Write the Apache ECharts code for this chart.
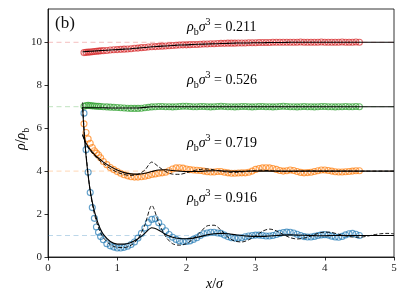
<!DOCTYPE html>
<html><head><meta charset="utf-8">
<script src="https://cdn.jsdelivr.net/npm/echarts@6/dist/echarts.min.js"></script>
<style>html,body{margin:0;padding:0;background:#fff}#c{width:407px;height:305px}</style>
</head><body><div id="c"></div>
<script>
// ---- data ----
const offsets = [0, 3, 6, 9];
const densities = ['0.916', '0.719', '0.526', '0.211'];
const colors = ['#1f77b4', '#ff7f0e', '#2ca02c', '#d62728'];
const xTicks = [0, 1, 2, 3, 4, 5];
const yTicks = [0, 2, 4, 6, 8, 10];

const markerX = [
 0.52,0.55,0.58,0.61,0.64,0.67,0.70,0.73,0.76,0.80,
 0.85,0.90,0.95,1.00,1.05,1.10,1.15,1.20,1.25,1.30,
 1.35,1.40,1.45,1.50,1.55,1.60,1.65,1.70,1.75,1.80,
 1.85,1.90,1.95,2.00,2.05,2.10,2.15,2.20,2.25,2.30,
 2.35,2.40,2.45,2.50,2.55,2.60,2.65,2.70,2.75,2.80,
 2.85,2.90,2.95,3.00,3.05,3.10,3.15,3.20,3.25,3.30,
 3.35,3.40,3.45,3.50,3.55,3.60,3.65,3.70,3.75,3.80,
 3.85,3.90,3.95,4.00,4.05,4.10,4.15,4.20,4.25,4.30,
 4.35,4.40,4.45,4.50];
const blueData = [
 6.7,5.0,3.95,3.0,2.3,1.8,1.4,1.15,0.95,0.8,
 0.62,0.52,0.46,0.42,0.42,0.45,0.5,0.58,0.7,0.88,
 1.1,1.35,1.6,1.75,1.78,1.6,1.4,1.22,1.05,0.92,
 0.82,0.75,0.72,0.72,0.75,0.82,0.9,1.0,1.08,1.12,
 1.15,1.15,1.12,1.1,1.02,0.95,0.9,0.88,0.88,0.9,
 0.94,0.98,1.0,1.02,1.02,1.0,0.98,0.98,1.0,1.05,
 1.1,1.14,1.16,1.15,1.12,1.06,1.0,0.95,0.93,0.93,
 0.96,1.0,1.03,1.04,1.02,0.97,0.93,0.92,0.96,1.03,
 1.08,1.1,1.06,1.0];
const orangeData = [
 3.2,2.8,2.5,2.3,2.1,1.95,1.84,1.75,1.62,1.45,
 1.3,1.17,1.07,0.98,0.9,0.83,0.78,0.74,0.72,0.72,
 0.74,0.76,0.8,0.84,0.87,0.9,0.92,0.95,1.02,1.1,
 1.15,1.16,1.14,1.1,1.07,1.05,1.04,1.03,1.0,0.97,
 0.96,0.96,0.98,0.98,0.95,0.92,0.9,0.9,0.91,0.92,
 0.92,0.95,1.0,1.08,1.12,1.15,1.16,1.15,1.12,1.08,
 1.03,1.0,1.02,1.05,1.03,0.98,0.94,0.92,0.93,0.95,
 0.98,1.02,1.05,1.05,1.03,1.0,0.97,0.96,0.96,0.97,
 0.98,1.0,1.02,1.02];
const greenData = [
 1.02,1.05,1.06,1.05,1.04,1.03,1.02,1.02,1.01,1.0,
 0.99,0.98,0.97,0.96,0.95,0.94,0.93,0.92,0.92,0.92,
 0.93,0.95,0.97,0.99,1.0,1.01,1.01,1.0,1.0,0.99,
 1.0,1.01,1.02,1.02,1.01,1.0,1.0,1.01,1.01,1.0,
 0.99,1.0,1.01,1.02,1.01,1.0,1.0,0.99,1.0,1.01,
 1.01,1.0,0.99,1.0,1.01,1.01,1.0,1.0,0.99,1.0,
 1.01,1.02,1.01,1.0,1.0,0.99,1.0,1.01,1.0,1.0,
 0.99,1.0,1.01,1.01,1.0,1.0,0.99,1.0,1.0,1.01,
 1.0,1.0,1.01,1.0];
const redData = [
 0.52,0.53,0.54,0.55,0.56,0.57,0.58,0.59,0.6,0.61,
 0.62,0.64,0.65,0.66,0.67,0.68,0.69,0.7,0.72,0.73,
 0.75,0.76,0.78,0.79,0.8,0.81,0.82,0.83,0.84,0.85,
 0.86,0.87,0.88,0.88,0.89,0.9,0.9,0.91,0.92,0.92,
 0.93,0.93,0.94,0.95,0.95,0.96,0.96,0.96,0.97,0.97,
 0.97,0.98,0.98,0.98,0.99,0.99,0.99,0.99,1.0,1.0,
 1.0,1.0,1.0,1.0,1.0,1.0,1.01,1.0,1.0,1.0,
 1.0,1.0,1.01,1.0,1.0,1.0,1.0,1.0,1.01,1.0,
 1.0,1.0,1.01,1.0];

const thX = [
 0.5,0.52,0.55,0.6,0.65,0.7,0.75,0.8,0.9,1.0,
 1.1,1.2,1.3,1.4,1.5,1.6,1.7,1.8,1.9,2.0,
 2.1,2.2,2.3,2.4,2.5,2.6,2.7,2.8,2.9,3.0,
 3.1,3.2,3.3,3.4,3.5,3.6,3.7,3.8,3.9,4.0,
 4.1,4.2,4.3,4.4,4.5,4.6,4.7,4.8,4.9,5.0];
const blueSolid = [
 7.0,5.9,4.7,3.3,2.4,1.8,1.35,1.05,0.72,0.6,
 0.6,0.68,0.85,1.1,1.36,1.25,1.05,0.92,0.86,0.85,
 0.88,0.95,1.03,1.08,1.1,1.08,1.04,1.0,0.97,0.96,
 0.96,0.98,1.0,1.02,1.03,1.02,1.01,1.0,0.99,0.99,
 1.0,1.0,1.0,1.0,1.0,1.0,1.0,1.0,1.0,1.0];
const blueDashed = [
 7.2,6.0,4.8,3.3,2.3,1.65,1.2,0.9,0.58,0.45,
 0.44,0.55,0.85,1.5,2.4,1.6,0.95,0.62,0.55,0.62,
 0.85,1.15,1.45,1.48,1.25,0.92,0.74,0.7,0.8,0.98,
 1.2,1.3,1.22,1.05,0.9,0.84,0.88,0.98,1.1,1.16,
 1.14,1.06,0.98,0.93,0.92,0.96,1.03,1.08,1.1,1.08];
const orangeSolid = [
 2.7,2.5,2.3,2.05,1.85,1.68,1.55,1.42,1.22,1.05,
 0.93,0.87,0.86,0.9,0.98,1.05,1.06,1.03,1.0,0.98,
 0.98,0.99,1.01,1.02,1.01,1.0,0.99,0.99,1.0,1.0,
 1.0,1.0,1.0,1.0,1.0,1.0,1.0,1.0,1.0,1.0,
 1.0,1.0,1.0,1.0,1.0,1.0,1.0,1.0,1.0,1.0];
const orangeDashed = [
 2.7,2.5,2.25,2.0,1.8,1.62,1.48,1.35,1.12,0.95,
 0.84,0.8,0.85,1.05,1.42,1.2,0.98,0.86,0.85,0.92,
 1.02,1.08,1.1,1.06,1.0,0.95,0.94,0.96,1.0,1.03,
 1.04,1.02,1.0,0.98,0.98,0.99,1.0,1.01,1.0,1.0,
 1.0,1.0,1.0,1.0,1.0,1.0,1.0,1.0,1.0,1.0];
const greenSolid = [
 0.95,0.95,0.95,0.95,0.95,0.95,0.95,0.95,0.94,0.94,
 0.94,0.94,0.94,0.97,1.0,1.0,1.0,1.0,1.0,1.0,
 1.0,1.0,1.0,1.0,1.0,1.0,1.0,1.0,1.0,1.0,
 1.0,1.0,1.0,1.0,1.0,1.0,1.0,1.0,1.0,1.0,
 1.0,1.0,1.0,1.0,1.0,1.0,1.0,1.0,1.0,1.0];
const redSolid = [
 0.56,0.56,0.57,0.58,0.59,0.6,0.61,0.62,0.64,0.66,
 0.68,0.7,0.73,0.76,0.79,0.81,0.83,0.85,0.87,0.88,
 0.9,0.91,0.92,0.93,0.94,0.95,0.96,0.97,0.97,0.98,
 0.98,0.99,0.99,0.99,1.0,1.0,1.0,1.0,1.0,1.0,
 1.0,1.0,1.0,1.0,1.0,1.0,1.0,1.0,1.0,1.0];

// ---- build ----
const FONT = 'Liberation Serif';
const markerSets = [blueData, orangeData, greenData, redData];
const solidSets = [blueSolid, orangeSolid, greenSolid, redSolid];
const dashedSets = [blueDashed, orangeDashed, null, null];

function pairs(xs, ys, off) { return xs.map((x, i) => [x, ys[i] + off]); }

const series = [];
// reference (bulk) lines
offsets.forEach((off, k) => {
  series.push({
    type: 'line', data: [[0, off + 1], [5, off + 1]], symbol: 'none', silent: true, z: 1,
    lineStyle: { color: colors[k], width: 1, type: [5, 3.5], opacity: 0.3 }
  });
});
// simulation markers
offsets.forEach((off, k) => {
  series.push({
    type: 'scatter', data: pairs(markerX, markerSets[k], off), symbol: 'circle', symbolSize: 6, z: 2,
    itemStyle: { color: 'rgba(255,255,255,0)', borderColor: colors[k], borderWidth: 1.1, opacity: 0.7 }
  });
});
// theory lines
offsets.forEach((off, k) => {
  series.push({
    type: 'line', data: pairs(thX, solidSets[k], off), symbol: 'none', smooth: 0.3, z: 4,
    lineStyle: { color: '#000', width: 1.1 }
  });
  if (dashedSets[k]) series.push({
    type: 'line', data: pairs(thX, dashedSets[k], off), symbol: 'none', smooth: 0.3, z: 3,
    lineStyle: { color: '#000', width: 0.9, type: [4, 2] }
  });
});

const rich = {
  i: { fontFamily: FONT, fontStyle: 'italic', fontSize: 14, lineHeight: 20, color: '#222' },
  n: { fontFamily: FONT, fontSize: 14, lineHeight: 20, color: '#222' },
  sub: { fontFamily: FONT, fontSize: 10, verticalAlign: 'bottom', color: '#222' },
  sup: { fontFamily: FONT, fontSize: 10, verticalAlign: 'top', color: '#222' }
};
const labelY = [198, 143, 80, 27];
const graphic = offsets.map((off, k) => ({
  type: 'text', left: 187, top: labelY[k] - 10, silent: true,
  style: { text: '{i|ρ}{sub|b}{i|σ}{sup|3}{n| = ' + densities[k] + '}', rich: rich }
}));
graphic.push({ type: 'text', left: 55, top: 15, style: { text: '(b)', fontFamily: FONT, fontSize: 17, fill: '#111' } });
graphic.push({ type: 'text', left: 206, top: 277, style: {
  text: '{i|x}{n|/}{i|σ}', rich: rich } });
graphic.push({ type: 'text', x: 11, y: 150, rotation: Math.PI / 2, style: {
  text: '{i|ρ}{n|/}{i|ρ}{sub|b}', rich: rich } });

const chart = echarts.init(document.getElementById('c'), null, { renderer: 'canvas' });
chart.setOption({
  animation: false,
  backgroundColor: '#fff',
  grid: { left: 48, right: 13, top: 9, bottom: 48, show: true, borderColor: '#000', borderWidth: 0.8, backgroundColor: 'transparent' },
  xAxis: {
    type: 'value', min: 0, max: 5, interval: 1,
    axisLine: { show: true, onZero: false, lineStyle: { color: '#000', width: 0.8 } },
    axisTick: { show: true, length: 3.5, lineStyle: { color: '#000', width: 0.8 } },
    axisLabel: { fontFamily: FONT, fontSize: 11, color: '#222', margin: 6, customValues: xTicks },
    splitLine: { show: false }
  },
  yAxis: {
    type: 'value', min: 0, max: 11.55,
    axisLine: { show: true, onZero: false, lineStyle: { color: '#000', width: 0.8 } },
    axisTick: { show: true, length: 3.5, lineStyle: { color: '#000', width: 0.8 }, customValues: yTicks },
    axisLabel: { fontFamily: FONT, fontSize: 11, color: '#222', margin: 6, customValues: yTicks },
    splitLine: { show: false }
  },
  graphic: graphic,
  series: series
});
</script></body></html>
